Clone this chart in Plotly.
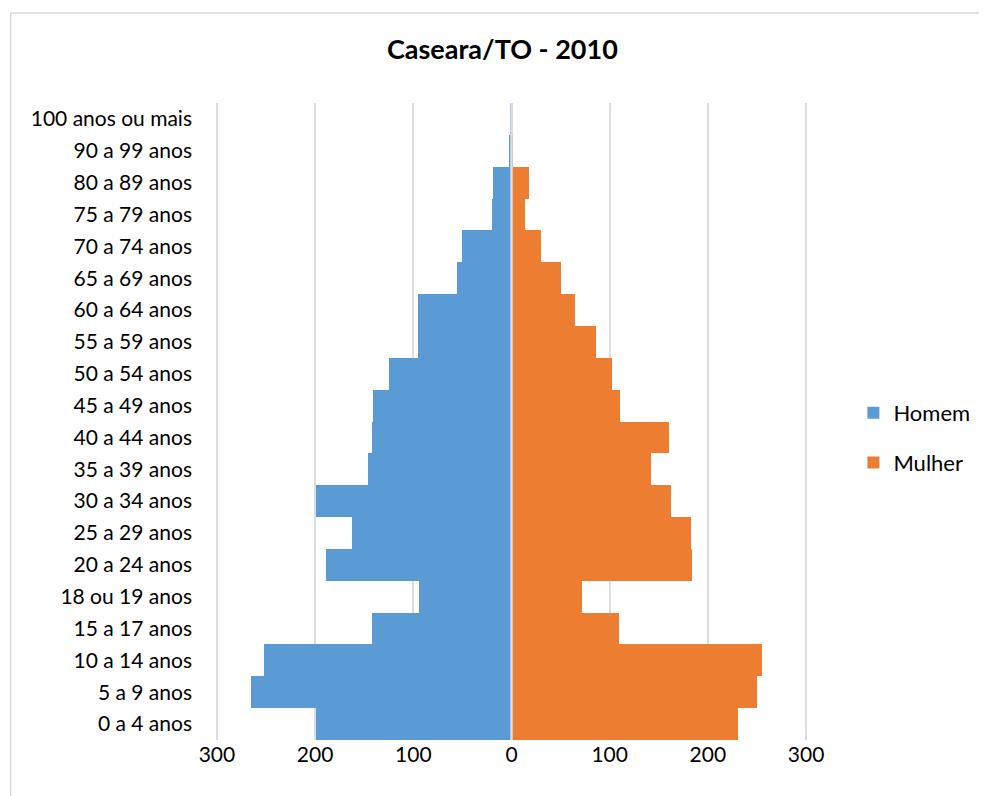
import plotly.graph_objects as go

categorias = ["0 a 4 anos", "5 a 9 anos", "10 a 14 anos", "15 a 17 anos", "18 ou 19 anos",
              "20 a 24 anos", "25 a 29 anos", "30 a 34 anos", "35 a 39 anos", "40 a 44 anos",
              "45 a 49 anos", "50 a 54 anos", "55 a 59 anos", "60 a 64 anos", "65 a 69 anos",
              "70 a 74 anos", "75 a 79 anos", "80 a 89 anos", "90 a 99 anos", "100 anos ou mais"]
homem = [199, 265, 252, 142, 94, 189, 162, 199, 146, 142, 141, 125, 95, 95, 56, 50, 20, 19, 3, 1]
mulher = [231, 250, 255, 109, 72, 184, 183, 162, 142, 160, 111, 102, 86, 65, 50, 30, 14, 18, 2, 0]
tick_vals = [-300, -200, -100, 0, 100, 200, 300]
tick_text = ["300", "200", "100", "0", "100", "200", "300"]

FONT = "Lato"
W, H = 979, 788
L, T = 207, 95
PW, PH = 601, 637

fig = go.Figure()
fig.add_trace(go.Bar(
    y=categorias, x=[-v for v in homem], name="Homem", orientation="h",
    marker=dict(color="#5B9BD5", line=dict(width=0)),
    customdata=homem, hovertemplate="%{y}: %{customdata}<extra>Homem</extra>",
    legendgroup="h",
))
fig.add_trace(go.Bar(
    y=categorias, x=mulher, name="Mulher", orientation="h",
    marker=dict(color="#ED7D31", line=dict(width=0)),
    hovertemplate="%{y}: %{x}<extra>Mulher</extra>",
    legendgroup="m",
))

fig.add_shape(type="line", xref="x", yref="paper", x0=0, x1=0, y0=0, y1=1,
              line=dict(color="#D9DEE5", width=2.5), layer="above")
# chart-area border
fig.add_shape(type="rect", xref="paper", yref="paper",
              x0=(0 - L) / PW, x1=(W + 5 - L) / PW,
              y0=-(H + 10 - T - PH) / PH, y1=(T + PH - 5) / PH,
              line=dict(color="#D9D9D9", width=1.5), layer="below")

fig.update_layout(
    width=W, height=H,
    barmode="relative", bargap=0,
    paper_bgcolor="white", plot_bgcolor="white",
    margin=dict(l=L, r=W - L - PW, t=T, b=H - T - PH),
    font=dict(family=FONT, color="#000000", size=21),
    title=dict(text="<b>Caseara/TO - 2010</b>", xref="container", x=0.505, xanchor="center",
               y=0.947, yanchor="middle", font=dict(family=FONT, size=27, color="#000000")),
    xaxis=dict(range=[-302, 302], tickvals=tick_vals, ticktext=tick_text,
               showgrid=True, gridcolor="#D9DEE5", gridwidth=1.5, zeroline=False,
               showline=False, ticks="", tickfont=dict(size=21), fixedrange=True),
    yaxis=dict(categoryorder="array", categoryarray=categorias, range=[-0.5, 19.5],
               showgrid=False, zeroline=False, showline=False, ticks="",
               ticklabelstandoff=22, tickfont=dict(size=21)),
    legend=dict(x=(854 - L) / PW, xanchor="left", y=0.474, yanchor="middle",
                font=dict(size=22), tracegroupgap=18, traceorder="grouped",
                itemwidth=30, bgcolor="rgba(0,0,0,0)"),
    showlegend=True,
)

fig.write_html("out.html")
